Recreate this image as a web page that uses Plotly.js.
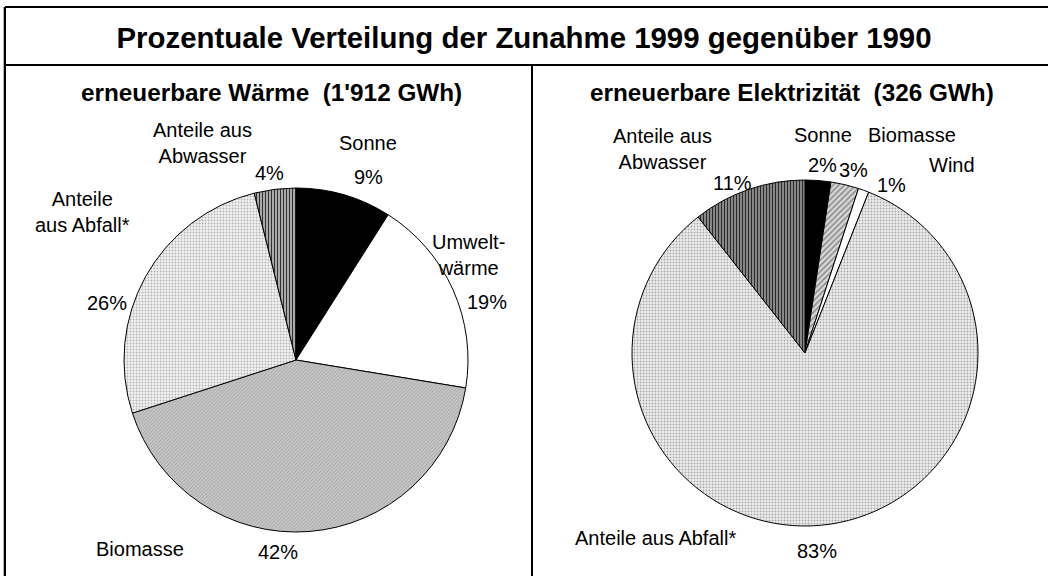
<!DOCTYPE html>
<html>
<head>
<meta charset="utf-8">
<script src="https://cdn.plot.ly/plotly-3.0.1.min.js"></script>
<style>html,body{margin:0;padding:0;background:#fff}#chart{width:1048px;height:576px}</style>
</head>
<body>
<div id="chart"></div>
<script>
// ---- data ----
const chartTitle = "Prozentuale Verteilung der Zunahme 1999 gegenüber 1990";
const heatTitle = "erneuerbare Wärme  (1'912 GWh)";
const elecTitle = "erneuerbare Elektrizität  (326 GWh)";

const heatCategories = ["Sonne", "Umweltwärme", "Biomasse", "Anteile aus Abfall*", "Anteile aus Abwasser"];
const heatValues = [9.0, 18.6, 42.4, 26.1, 3.9];
const heatLabelText = ["Sonne", "Umwelt-<br>wärme", "Biomasse", "Anteile<br>aus Abfall*", "Anteile aus<br>Abwasser"];

const elecCategories = ["Sonne", "Biomasse", "Wind", "Anteile aus Abfall*", "Anteile aus Abwasser"];
const elecValues = [2.4, 2.6, 1.0, 83.4, 10.6];
const elecLabelText = ["Sonne", "Biomasse", "Wind", "Anteile aus Abfall*", "Anteile aus<br>Abwasser"];

// ---- geometry helpers (page pixels -> paper) ----
const W = 1048, H = 576;
const px = x => x / W;
const py = y => 1 - y / H;
const pct = (vals) => { const s = vals.reduce((a, b) => a + b, 0); return vals.map(v => Math.round(v / s * 100) + '%'); };

const FONT = "Liberation Sans, Arial, sans-serif";
const LABEL_SIZE = 20;

// label placements (page pixel centres) for names and percentages
const heatNamePos = [[368, 143], [468, 255], [140, 549], [83, 212], [202, 143]];
const heatPctPos  = [[368, 177], [487, 302], [278, 552], [107, 303], [269, 173]];
const elecNamePos = [[823, 135], [912, 135], [952, 165], [655, 538], [662, 149]];
const elecPctPos  = [[822, 165], [853, 170], [891, 185], [817, 551], [732, 183]];

const heatStyle = {
  colors: ["#000000", "#ffffff", "#c6c6c6", "#f2f2f2", "#b8b8b8"],
  shape:  ["", "", "/", ".", "|"],
  fg:     ["#000000", "#ffffff", "#9a9a9a", "#b4b4b4", "#303030"],
  size:   [6, 6, 2.5, 3, 3],
  sol:    [0.3, 0.3, 0.3, 0.3, 0.4]
};
const elecStyle = {
  colors: ["#000000", "#d6d6d6", "#ffffff", "#eeeeee", "#9a9a9a"],
  shape:  ["", "/", "", ".", "|"],
  fg:     ["#000000", "#7a7a7a", "#ffffff", "#a8a8a8", "#2a2a2a"],
  size:   [6, 4, 6, 3, 3],
  sol:    [0.3, 0.3, 0.3, 0.3, 0.45]
};

function pieTrace(cats, vals, st, x0, x1, y0, y1) {
  return {
    type: 'pie', labels: cats, values: vals, sort: false, direction: 'clockwise', rotation: 0,
    textinfo: 'none', hoverinfo: 'label+percent', showlegend: false,
    domain: { x: [px(x0), px(x1)], y: [py(y1), py(y0)] },
    marker: {
      colors: st.colors,
      line: { color: '#000000', width: 1 },
      pattern: { shape: st.shape, fgcolor: st.fg, bgcolor: st.colors, size: st.size, solidity: st.sol, fillmode: 'replace' }
    }
  };
}

const traces = [
  pieTrace(heatCategories, heatValues, heatStyle, 124, 468, 188, 532),
  pieTrace(elecCategories, elecValues, elecStyle, 632, 978, 180, 526)
];

const annotations = [];
function addLabels(texts, vals, namePos, pctPos) {
  const p = pct(vals);
  texts.forEach((t, i) => {
    annotations.push({ text: t, x: px(namePos[i][0]), y: py(namePos[i][1]), xref: 'paper', yref: 'paper',
      xanchor: 'center', yanchor: 'middle', showarrow: false, font: { family: FONT, size: LABEL_SIZE, color: '#000' } });
    annotations.push({ text: p[i], x: px(pctPos[i][0]), y: py(pctPos[i][1]), xref: 'paper', yref: 'paper',
      xanchor: 'center', yanchor: 'middle', showarrow: false, font: { family: FONT, size: LABEL_SIZE, color: '#000' } });
  });
}
addLabels(heatLabelText, heatValues, heatNamePos, heatPctPos);
addLabels(elecLabelText, elecValues, elecNamePos, elecPctPos);

annotations.push({ text: '<b>' + heatTitle + '</b>', x: px(271), y: py(92), xref: 'paper', yref: 'paper',
  xanchor: 'center', yanchor: 'middle', showarrow: false, font: { family: FONT, size: 24.3, color: '#000' } });
annotations.push({ text: '<b>' + elecTitle + '</b>', x: px(792), y: py(92), xref: 'paper', yref: 'paper',
  xanchor: 'center', yanchor: 'middle', showarrow: false, font: { family: FONT, size: 24.3, color: '#000' } });

const line = (x0, y0, x1, y1, c, w) => ({ type: 'line', xref: 'paper', yref: 'paper',
  x0: px(x0), y0: py(y0), x1: px(x1), y1: py(y1), line: { color: c, width: w } });

const shapes = [
  line(3.5, 7, 3.5, 576, '#b0b0b0', 1),
  line(5, 7, 5, 576, '#000', 2),
  line(5, 7, 1048, 7, '#000', 2),
  line(5, 65, 1048, 65, '#000', 2),
  line(532, 65, 532, 576, '#000', 2)
];

const layout = {
  width: W, height: H,
  margin: { l: 0, r: 0, t: 0, b: 0 },
  paper_bgcolor: '#ffffff', plot_bgcolor: '#ffffff',
  title: { text: '<b>' + chartTitle + '</b>', x: 0.5, xanchor: 'center', y: py(38), yanchor: 'middle',
    font: { family: FONT, size: 29.4, color: '#000' } },
  annotations: annotations,
  shapes: shapes
};

Plotly.newPlot('chart', traces, layout, { displayModeBar: false, staticPlot: true });
</script>
</body>
</html>
